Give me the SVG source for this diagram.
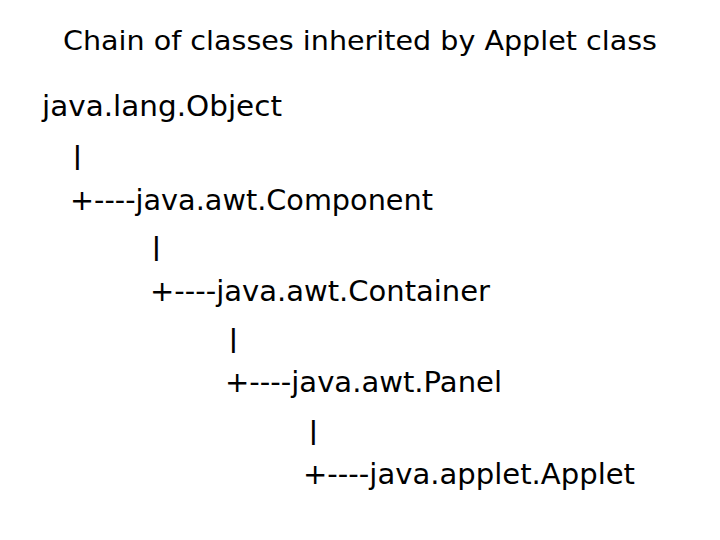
<svg xmlns="http://www.w3.org/2000/svg" width="720" height="540" viewBox="0 0 720 540">
<style>
.t{font-family:"DejaVu Sans","Liberation Sans",sans-serif;fill:#000;}
.title{font-size:27px;}
.b{font-size:28px;}
.bar{font-size:24px;font-weight:bold;}
</style>
<rect width="720" height="540" fill="#fff"/>
<text class="t title" x="63" y="50" textLength="594" lengthAdjust="spacingAndGlyphs">Chain of classes inherited by Applet class</text>
<g id="object"><text class="t b" x="42" y="116" textLength="240" lengthAdjust="spacingAndGlyphs">java.lang.Object</text></g>
<g id="connectors">
<text class="t bar" x="73" y="164">|</text>
<text class="t bar" x="152" y="255">|</text>
<text class="t bar" x="229" y="347">|</text>
<text class="t bar" x="309" y="439">|</text>
</g>
<g id="component"><text class="t b" x="70" y="210" textLength="363" lengthAdjust="spacingAndGlyphs">+----java.awt.Component</text></g>
<g id="container"><text class="t b" x="150" y="301" textLength="340" lengthAdjust="spacingAndGlyphs">+----java.awt.Container</text></g>
<g id="panel"><text class="t b" x="225" y="392" textLength="277" lengthAdjust="spacingAndGlyphs">+----java.awt.Panel</text></g>
<g id="applet"><text class="t b" x="303" y="484" textLength="332" lengthAdjust="spacingAndGlyphs">+----java.applet.Applet</text></g>
</svg>
